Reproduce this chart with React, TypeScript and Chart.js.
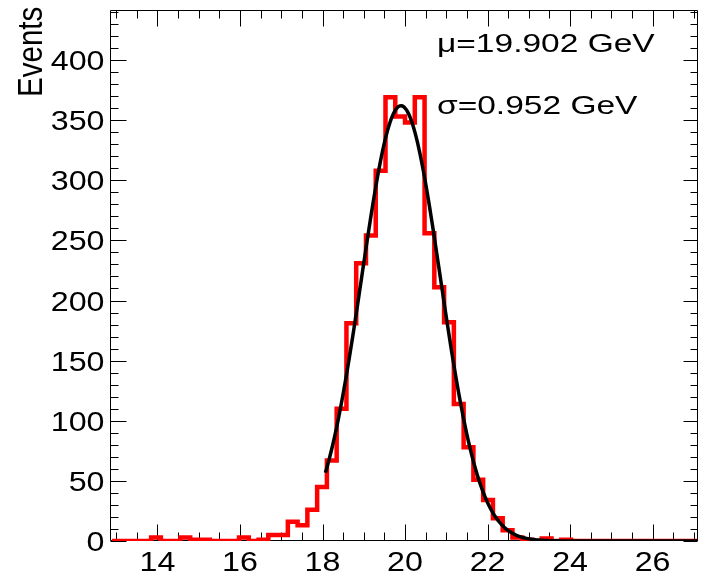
import React, { useEffect, useRef } from "react";
import { Chart, registerables } from "chart.js";

Chart.register(...registerables);

// ---- data ----
const xAxisMin = 12.85;
const xAxisMax = 27.1;
const yAxisMin = 0;
const yAxisMax = 441.6;

const binStart = 12.9;
const binWidth = 14.2 / 60;
const binCounts = [
  0, 0, 0, 0, 3, 0, 0, 3, 1, 1,
  0, 0, 0, 3, 0, 1, 5, 5, 16, 13,
  26, 45, 67, 110, 181, 231, 254, 308, 369, 353,
  348, 369, 256, 211, 182, 114, 78, 51, 34, 19,
  9, 3, 1, 0, 2, 0, 1, 0, 0, 0,
  0, 0, 0, 0, 0, 0, 0, 0, 0, 0,
];

const xMajorTicks = [14, 16, 18, 20, 22, 24, 26];
const xTickLabels = ["14", "16", "18", "20", "22", "24", "26"];
const xMinorStep = 0.5;
const yMajorTicks = [0, 50, 100, 150, 200, 250, 300, 350, 400];
const yTickLabels = ["0", "50", "100", "150", "200", "250", "300", "350", "400"];
const yMinorStep = 10;

const fitMean = 19.902;
const fitSigma = 0.952;
const fitAmplitude = 362;
const fitFrom = 18.07;
const fitTo = 27.1;
const fitSamples = 300;

const statLines = ["\u03bc=19.902 GeV", "\u03c3=0.952 GeV"];
const yTitle = "Events";

const FONT = '"Liberation Sans", Arial, Helvetica, sans-serif';

function drawScaledText(
  ctx: CanvasRenderingContext2D,
  text: string,
  x: number,
  y: number,
  size: number,
  sx: number,
  align: CanvasTextAlign,
  rotate = 0
) {
  ctx.save();
  ctx.translate(x, y);
  ctx.scale(sx, 1);
  if (rotate) ctx.rotate(rotate);
  ctx.font = `${size}px ${FONT}`;
  ctx.textAlign = align;
  ctx.textBaseline = "alphabetic";
  ctx.fillStyle = "#000";
  ctx.fillText(text, 0, 0);
  ctx.restore();
}

const rootAxesPlugin = {
  id: "rootAxes",
  beforeDatasetsDraw(chart: any) {
    const { ctx, chartArea, scales } = chart;
    const { left, right, top, bottom } = chartArea;
    const xs = scales.x;
    const ys = scales.y;
    ctx.save();
    ctx.strokeStyle = "#000";
    ctx.lineWidth = 1;
    // frame
    ctx.beginPath();
    ctx.rect(left + 0.5, top + 0.5, right - left - 1, bottom - top - 1);
    ctx.stroke();

    const bx = bottom - 0.5;
    const tx = top + 0.5;
    // x ticks
    ctx.beginPath();
    for (let v = Math.ceil(xAxisMin / xMinorStep) * xMinorStep; v <= xAxisMax + 1e-9; v += xMinorStep) {
      const isMajor = xMajorTicks.some((m) => Math.abs(m - v) < 1e-6);
      const px = Math.round(xs.getPixelForValue(v)) + 0.5;
      const len = isMajor ? 16 : 8;
      ctx.moveTo(px, bx);
      ctx.lineTo(px, bx - len);
      ctx.moveTo(px, tx);
      ctx.lineTo(px, tx + len);
    }
    // y ticks
    const lx = left + 0.5;
    const rx = right - 0.5;
    for (let v = yAxisMin; v <= yAxisMax + 1e-9; v += yMinorStep) {
      const isMajor = yMajorTicks.some((m) => Math.abs(m - v) < 1e-6);
      const py = Math.round(ys.getPixelForValue(v)) + 0.5;
      ctx.moveTo(lx, py);
      ctx.lineTo(lx + (isMajor ? 16 : 8), py);
      ctx.moveTo(rx, py);
      ctx.lineTo(rx - (isMajor ? 14 : 7), py);
    }
    ctx.stroke();
    ctx.restore();
  },
  afterDatasetsDraw(chart: any) {
    const { ctx, scales } = chart;
    const xs = scales.x;
    const ys = scales.y;
    // x tick labels
    xMajorTicks.forEach((v, i) => {
      drawScaledText(ctx, xTickLabels[i], xs.getPixelForValue(v), 571, 28, 1.15, "center");
    });
    // y tick labels
    yMajorTicks.forEach((v, i) => {
      drawScaledText(ctx, yTickLabels[i], 104.5, ys.getPixelForValue(v) + 10, 28, 1.15, "right");
    });
    // y title
    drawScaledText(ctx, yTitle, 41.5, 6.7, 29.5, 1.19, "right", -Math.PI / 2);
    // stat text
    drawScaledText(ctx, statLines[0], 437, 52, 25, 1.34, "left");
    drawScaledText(ctx, statLines[1], 437, 113.5, 25, 1.34, "left");
  },
};

export default function App() {
  const canvasRef = useRef<HTMLCanvasElement | null>(null);

  useEffect(() => {
    const canvas = canvasRef.current;
    if (!canvas) return;

    const histPoints: { x: number; y: number }[] = binCounts.map((c, i) => ({
      x: binStart + i * binWidth,
      y: c,
    }));
    histPoints.push({
      x: binStart + binCounts.length * binWidth,
      y: binCounts[binCounts.length - 1],
    });

    const fitPoints: { x: number; y: number }[] = [];
    for (let k = 0; k <= fitSamples; k++) {
      const x = fitFrom + ((fitTo - fitFrom) * k) / fitSamples;
      const z = (x - fitMean) / fitSigma;
      fitPoints.push({ x, y: fitAmplitude * Math.exp(-0.5 * z * z) });
    }

    const chart = new Chart(canvas, {
      type: "line",
      data: {
        datasets: [
          {
            label: "fit",
            data: fitPoints,
            borderColor: "#000000",
            borderWidth: 3.5,
            pointRadius: 0,
            fill: false,
            tension: 0,
            order: 0,
          },
          {
            label: "hist",
            data: histPoints,
            borderColor: "#ff0000",
            borderWidth: 4.5,
            pointRadius: 0,
            fill: false,
            stepped: "before",
            order: 1,
          },
        ],
      },
      options: {
        animation: false,
        responsive: false,
        devicePixelRatio: 1,
        parsing: true,
        layout: { padding: { left: 110, right: 3, top: 10, bottom: 38 } },
        plugins: { legend: { display: false }, tooltip: { enabled: false }, title: { display: false } },
        scales: {
          x: { type: "linear", min: xAxisMin, max: xAxisMax, display: false },
          y: { type: "linear", min: yAxisMin, max: yAxisMax, display: false },
        },
      },
      plugins: [rootAxesPlugin],
    });
    return () => chart.destroy();
  }, []);

  return (
    <canvas
      ref={canvasRef}
      width={701}
      height={579}
      style={{ position: "fixed", left: 0, top: 0, width: 701, height: 579, background: "#fff" }}
    />
  );
}
